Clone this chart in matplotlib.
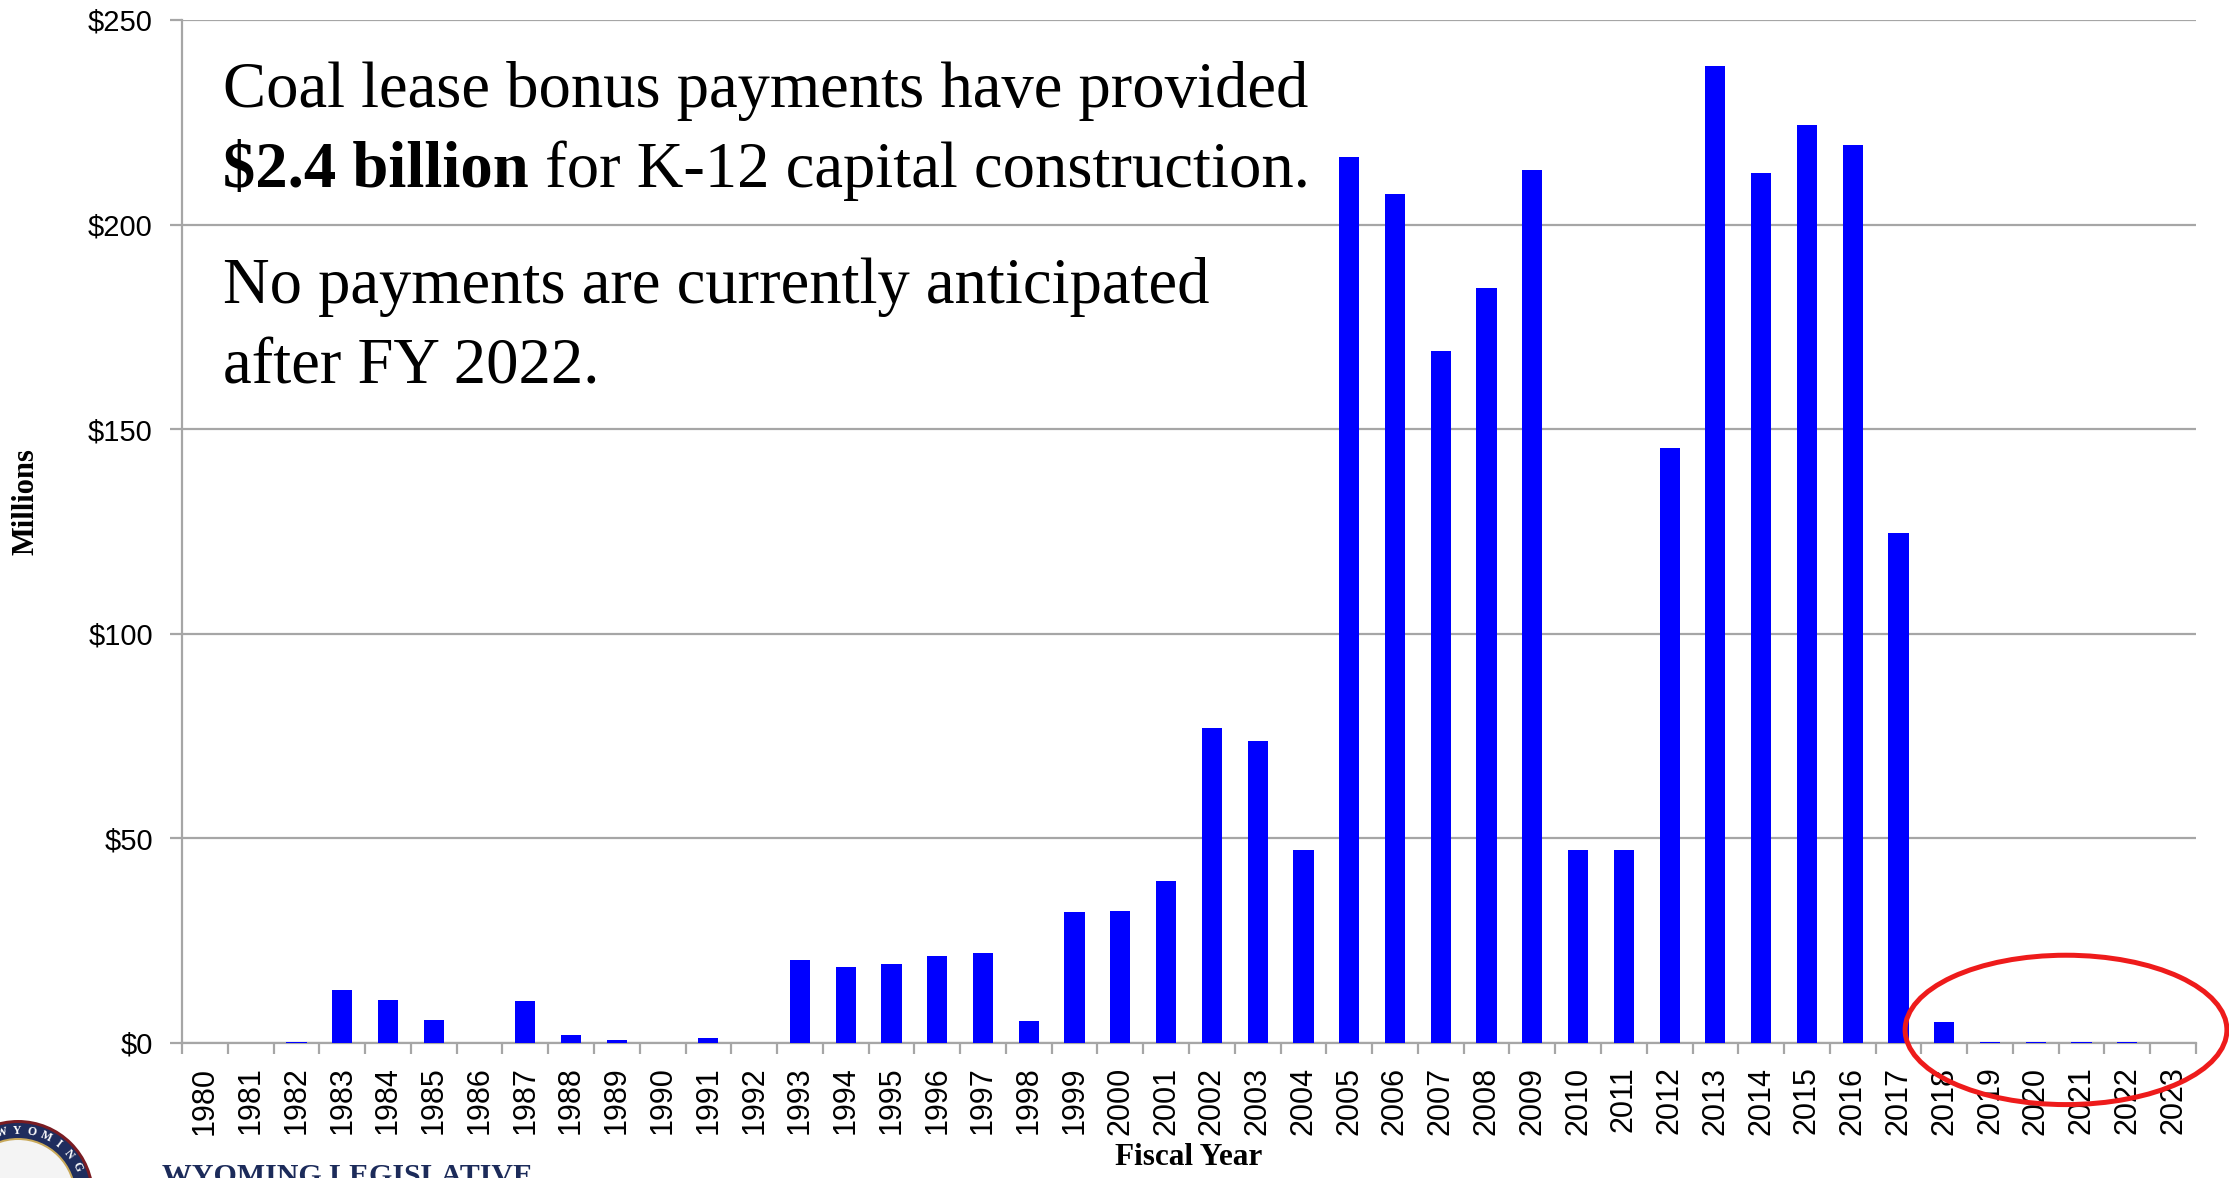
import numpy as np
import matplotlib.pyplot as plt
from matplotlib.patches import Ellipse, Circle

# coal lease bonus payments by fiscal year, millions of dollars
years = [str(y) for y in range(1980, 2024)]
payments = [
    0, 0, 0.3, 12.9, 10.5, 5.6, 0, 10.3, 1.9, 0.8,
    0, 1.3, 0, 20.3, 18.5, 19.3, 21.3, 22.1, 5.4, 32.1,
    32.3, 39.6, 77.0, 73.8, 47.2, 216.6, 207.5, 169.2, 184.5, 213.4,
    47.2, 47.2, 145.5, 238.7, 212.6, 224.4, 219.5, 124.7, 5.2, 0.3,
    0.3, 0.3, 0.3, 0,
]
yticks = [0, 50, 100, 150, 200, 250]
ytick_labels = ["$" + str(v) for v in yticks]

W, H = 2229, 1178
serif = "Liberation Serif"
sans = "Liberation Sans"
grey = "#a6a6a6"

fig = plt.figure(figsize=(W / 100, H / 100), dpi=100)
ax = fig.add_axes([182 / W, 1 - 1043 / H, (2196 - 182) / W, (1043 - 20) / H])

x = np.arange(len(years))
ax.bar(x, payments, width=0.44, color="#0000ff", zorder=3)

ax.set_xlim(-0.5, len(years) - 0.5)
ax.set_ylim(0, 250)
ax.set_yticks(yticks)
ax.set_yticklabels(ytick_labels, fontfamily=sans, fontsize=21)
ax.set_xticks(x)
ax.set_xticklabels(years, rotation=90, fontfamily=sans, fontsize=22)
ax.set_xticks(np.arange(-0.5, len(years)), minor=True)

ax.yaxis.grid(True, color=grey, lw=1.6)
ax.set_axisbelow(True)
for s in ["top", "right"]:
    ax.spines[s].set_visible(False)
for s in ["left", "bottom"]:
    ax.spines[s].set_color(grey)
    ax.spines[s].set_linewidth(1.6)
ax.tick_params(axis="y", length=9, width=1.6, color=grey, pad=12)
ax.tick_params(axis="x", which="major", length=0, pad=17)
ax.tick_params(axis="x", which="minor", length=8, width=1.6, color=grey)

# axis titles
fig.text(26 / W, 1 - 502 / H, "Millions", rotation=90, ha="center", va="center",
         fontfamily=serif, fontweight="bold", fontsize=22)
fig.text(1189 / W, 1 - 1165 / H, "Fiscal Year", ha="center", va="baseline",
         fontfamily=serif, fontweight="bold", fontsize=22.5)

# callout text
fs = 46.5
tx = 223 / W
fig.text(tx, 1 - 107 / H, "Coal lease bonus payments have provided",
         fontfamily=serif, fontsize=fs, va="baseline")
t_bold = fig.text(tx, 1 - 187 / H, "$2.4 billion", fontfamily=serif,
                  fontweight="bold", fontsize=fs, va="baseline")
ax.annotate(" for K-12 capital construction.", xy=(1, 0), xycoords=t_bold,
            va="bottom", ha="left", fontfamily=serif, fontsize=fs,
            annotation_clip=False)
fig.text(tx, 1 - 303 / H, "No payments are currently anticipated",
         fontfamily=serif, fontsize=fs, va="baseline")
fig.text(tx, 1 - 383 / H, "after FY 2022.",
         fontfamily=serif, fontsize=fs, va="baseline")

# red ring around the final years
ax.add_patch(Ellipse((40.66, 3.2), width=7.03, height=36.5, fill=False,
                     edgecolor="#ee1b1b", lw=3.6, clip_on=False, zorder=5))

# seal and banner in the lower left corner
over = fig.add_axes([0, 0, 1, 1], zorder=-1)
over.set_xlim(0, W)
over.set_ylim(H, 0)
over.axis("off")
cx, cy = 18, 1196
over.add_patch(Circle((cx, cy), 76, facecolor="#7a1c22", edgecolor="none"))
over.add_patch(Circle((cx, cy), 73, facecolor="#1f2d5e", edgecolor="none"))
over.add_patch(Circle((cx, cy), 58, facecolor="#c9a95a", edgecolor="none"))
over.add_patch(Circle((cx, cy), 56, facecolor="#f4f4f4", edgecolor="none"))
for i, ch in enumerate("WYOMING"):
    ang = np.deg2rad(104 - i * 13)
    over.text(cx + 65.5 * np.cos(ang), cy - 65.5 * np.sin(ang), ch, color="white",
              fontfamily=serif, fontweight="bold", fontsize=8.5,
              rotation=np.rad2deg(ang) - 90, ha="center", va="center")
fig.text(162 / W, 1 - 1184 / H, "WYOMING LEGISLATIVE", color="#1c2b5a",
         fontfamily=serif, fontweight="bold", fontsize=21.5, va="baseline")

fig.savefig("out.png", dpi=100)
